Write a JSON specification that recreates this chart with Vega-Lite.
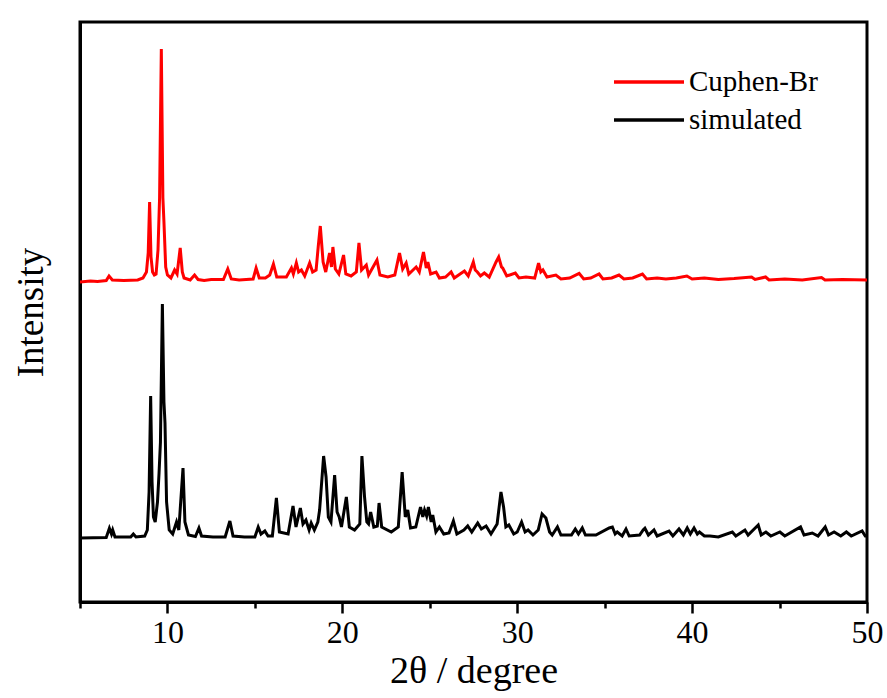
{
  "$schema": "https://vega.github.io/schema/vega-lite/v6.json",
  "width": 787,
  "height": 580,
  "autosize": {"type": "none"},
  "padding": {"left": 80, "top": 22, "right": 20, "bottom": 96},
  "background": "white",
  "config": {
    "view": {"stroke": "black", "strokeWidth": 3},
    "font": "Liberation Serif",
    "axisX": {"labelFont": "Liberation Serif", "titleFont": "Liberation Serif"},
    "axisY": {"labelFont": "Liberation Serif", "titleFont": "Liberation Serif"},
    "axisQuantitative": {"labelFont": "Liberation Serif", "titleFont": "Liberation Serif"}
  },
  "resolve": {"axis": {"x": "independent"}},
  "layer": [
    {
      "data": {"values": [
        {"theta": 5.0, "intensity": 320, "series": "Cuphen-Br"},
        {"theta": 5.6, "intensity": 321, "series": "Cuphen-Br"},
        {"theta": 6.0, "intensity": 320.5, "series": "Cuphen-Br"},
        {"theta": 6.5, "intensity": 321.5, "series": "Cuphen-Br"},
        {"theta": 6.66, "intensity": 326, "series": "Cuphen-Br"},
        {"theta": 6.85, "intensity": 322, "series": "Cuphen-Br"},
        {"theta": 7.5, "intensity": 321.5, "series": "Cuphen-Br"},
        {"theta": 8.3, "intensity": 322, "series": "Cuphen-Br"},
        {"theta": 8.6, "intensity": 324, "series": "Cuphen-Br"},
        {"theta": 8.8, "intensity": 330, "series": "Cuphen-Br"},
        {"theta": 8.9, "intensity": 349, "series": "Cuphen-Br"},
        {"theta": 8.98, "intensity": 400, "series": "Cuphen-Br"},
        {"theta": 9.06, "intensity": 345, "series": "Cuphen-Br"},
        {"theta": 9.15, "intensity": 330, "series": "Cuphen-Br"},
        {"theta": 9.25, "intensity": 327, "series": "Cuphen-Br"},
        {"theta": 9.35, "intensity": 328, "series": "Cuphen-Br"},
        {"theta": 9.46, "intensity": 352, "series": "Cuphen-Br"},
        {"theta": 9.55, "intensity": 404, "series": "Cuphen-Br"},
        {"theta": 9.65, "intensity": 553, "series": "Cuphen-Br"},
        {"theta": 9.74, "intensity": 404, "series": "Cuphen-Br"},
        {"theta": 9.8, "intensity": 380, "series": "Cuphen-Br"},
        {"theta": 9.9, "intensity": 335, "series": "Cuphen-Br"},
        {"theta": 10.0, "intensity": 327, "series": "Cuphen-Br"},
        {"theta": 10.2, "intensity": 324, "series": "Cuphen-Br"},
        {"theta": 10.41, "intensity": 332, "series": "Cuphen-Br"},
        {"theta": 10.55, "intensity": 328, "series": "Cuphen-Br"},
        {"theta": 10.73, "intensity": 354, "series": "Cuphen-Br"},
        {"theta": 10.85, "intensity": 330, "series": "Cuphen-Br"},
        {"theta": 10.95, "intensity": 324, "series": "Cuphen-Br"},
        {"theta": 11.3, "intensity": 322, "series": "Cuphen-Br"},
        {"theta": 11.55, "intensity": 327, "series": "Cuphen-Br"},
        {"theta": 11.75, "intensity": 322.5, "series": "Cuphen-Br"},
        {"theta": 12.1, "intensity": 321.5, "series": "Cuphen-Br"},
        {"theta": 12.5, "intensity": 322.5, "series": "Cuphen-Br"},
        {"theta": 13.2, "intensity": 322.5, "series": "Cuphen-Br"},
        {"theta": 13.45, "intensity": 333, "series": "Cuphen-Br"},
        {"theta": 13.65, "intensity": 323, "series": "Cuphen-Br"},
        {"theta": 14.1, "intensity": 322, "series": "Cuphen-Br"},
        {"theta": 14.5, "intensity": 322.5, "series": "Cuphen-Br"},
        {"theta": 14.9, "intensity": 323, "series": "Cuphen-Br"},
        {"theta": 15.07, "intensity": 334, "series": "Cuphen-Br"},
        {"theta": 15.25, "intensity": 324, "series": "Cuphen-Br"},
        {"theta": 15.6, "intensity": 324, "series": "Cuphen-Br"},
        {"theta": 15.85, "intensity": 327, "series": "Cuphen-Br"},
        {"theta": 16.06, "intensity": 338, "series": "Cuphen-Br"},
        {"theta": 16.25, "intensity": 325, "series": "Cuphen-Br"},
        {"theta": 16.8, "intensity": 325, "series": "Cuphen-Br"},
        {"theta": 17.09, "intensity": 334, "series": "Cuphen-Br"},
        {"theta": 17.2, "intensity": 328, "series": "Cuphen-Br"},
        {"theta": 17.37, "intensity": 339, "series": "Cuphen-Br"},
        {"theta": 17.5, "intensity": 330, "series": "Cuphen-Br"},
        {"theta": 17.66, "intensity": 332, "series": "Cuphen-Br"},
        {"theta": 17.85, "intensity": 326, "series": "Cuphen-Br"},
        {"theta": 18.13, "intensity": 339, "series": "Cuphen-Br"},
        {"theta": 18.3, "intensity": 330, "series": "Cuphen-Br"},
        {"theta": 18.5, "intensity": 332, "series": "Cuphen-Br"},
        {"theta": 18.62, "intensity": 355, "series": "Cuphen-Br"},
        {"theta": 18.74, "intensity": 376, "series": "Cuphen-Br"},
        {"theta": 18.9, "intensity": 340, "series": "Cuphen-Br"},
        {"theta": 19.05, "intensity": 330, "series": "Cuphen-Br"},
        {"theta": 19.27, "intensity": 349, "series": "Cuphen-Br"},
        {"theta": 19.38, "intensity": 335, "series": "Cuphen-Br"},
        {"theta": 19.46, "intensity": 355, "series": "Cuphen-Br"},
        {"theta": 19.6, "intensity": 333, "series": "Cuphen-Br"},
        {"theta": 19.8, "intensity": 328, "series": "Cuphen-Br"},
        {"theta": 20.07, "intensity": 347, "series": "Cuphen-Br"},
        {"theta": 20.2, "intensity": 328, "series": "Cuphen-Br"},
        {"theta": 20.5, "intensity": 326, "series": "Cuphen-Br"},
        {"theta": 20.8, "intensity": 330, "series": "Cuphen-Br"},
        {"theta": 20.95, "intensity": 359, "series": "Cuphen-Br"},
        {"theta": 21.1, "intensity": 332, "series": "Cuphen-Br"},
        {"theta": 21.37, "intensity": 337, "series": "Cuphen-Br"},
        {"theta": 21.5, "intensity": 327, "series": "Cuphen-Br"},
        {"theta": 21.98, "intensity": 342, "series": "Cuphen-Br"},
        {"theta": 22.15, "intensity": 327, "series": "Cuphen-Br"},
        {"theta": 22.6, "intensity": 325, "series": "Cuphen-Br"},
        {"theta": 23.0, "intensity": 327, "series": "Cuphen-Br"},
        {"theta": 23.27, "intensity": 349, "series": "Cuphen-Br"},
        {"theta": 23.45, "intensity": 333, "series": "Cuphen-Br"},
        {"theta": 23.65, "intensity": 339, "series": "Cuphen-Br"},
        {"theta": 23.8, "intensity": 328, "series": "Cuphen-Br"},
        {"theta": 24.22, "intensity": 335, "series": "Cuphen-Br"},
        {"theta": 24.4, "intensity": 330, "series": "Cuphen-Br"},
        {"theta": 24.64, "intensity": 350, "series": "Cuphen-Br"},
        {"theta": 24.8, "intensity": 334, "series": "Cuphen-Br"},
        {"theta": 24.89, "intensity": 340, "series": "Cuphen-Br"},
        {"theta": 25.05, "intensity": 328, "series": "Cuphen-Br"},
        {"theta": 25.36, "intensity": 330, "series": "Cuphen-Br"},
        {"theta": 25.55, "intensity": 324, "series": "Cuphen-Br"},
        {"theta": 25.9, "intensity": 325, "series": "Cuphen-Br"},
        {"theta": 26.22, "intensity": 330, "series": "Cuphen-Br"},
        {"theta": 26.4, "intensity": 324, "series": "Cuphen-Br"},
        {"theta": 26.98, "intensity": 331, "series": "Cuphen-Br"},
        {"theta": 27.2, "intensity": 326, "series": "Cuphen-Br"},
        {"theta": 27.49, "intensity": 340, "series": "Cuphen-Br"},
        {"theta": 27.6, "intensity": 332, "series": "Cuphen-Br"},
        {"theta": 27.72, "intensity": 330, "series": "Cuphen-Br"},
        {"theta": 27.9, "intensity": 326, "series": "Cuphen-Br"},
        {"theta": 28.12, "intensity": 329, "series": "Cuphen-Br"},
        {"theta": 28.4, "intensity": 325, "series": "Cuphen-Br"},
        {"theta": 28.79, "intensity": 340, "series": "Cuphen-Br"},
        {"theta": 28.94, "intensity": 345, "series": "Cuphen-Br"},
        {"theta": 29.1, "intensity": 335, "series": "Cuphen-Br"},
        {"theta": 29.17, "intensity": 334, "series": "Cuphen-Br"},
        {"theta": 29.4, "intensity": 326, "series": "Cuphen-Br"},
        {"theta": 29.89, "intensity": 329, "series": "Cuphen-Br"},
        {"theta": 30.1, "intensity": 324, "series": "Cuphen-Br"},
        {"theta": 30.5, "intensity": 325, "series": "Cuphen-Br"},
        {"theta": 31.0, "intensity": 324, "series": "Cuphen-Br"},
        {"theta": 31.22, "intensity": 339, "series": "Cuphen-Br"},
        {"theta": 31.35, "intensity": 330, "series": "Cuphen-Br"},
        {"theta": 31.47, "intensity": 332, "series": "Cuphen-Br"},
        {"theta": 31.7, "intensity": 325, "series": "Cuphen-Br"},
        {"theta": 32.21, "intensity": 327, "series": "Cuphen-Br"},
        {"theta": 32.5, "intensity": 323, "series": "Cuphen-Br"},
        {"theta": 33.0, "intensity": 324, "series": "Cuphen-Br"},
        {"theta": 33.54, "intensity": 328.7, "series": "Cuphen-Br"},
        {"theta": 33.8, "intensity": 323, "series": "Cuphen-Br"},
        {"theta": 34.2, "intensity": 324, "series": "Cuphen-Br"},
        {"theta": 34.68, "intensity": 328, "series": "Cuphen-Br"},
        {"theta": 34.9, "intensity": 323, "series": "Cuphen-Br"},
        {"theta": 35.4, "intensity": 324, "series": "Cuphen-Br"},
        {"theta": 35.82, "intensity": 327, "series": "Cuphen-Br"},
        {"theta": 36.1, "intensity": 323, "series": "Cuphen-Br"},
        {"theta": 36.6, "intensity": 324, "series": "Cuphen-Br"},
        {"theta": 37.16, "intensity": 328, "series": "Cuphen-Br"},
        {"theta": 37.4, "intensity": 323, "series": "Cuphen-Br"},
        {"theta": 38.0, "intensity": 324, "series": "Cuphen-Br"},
        {"theta": 38.5, "intensity": 323, "series": "Cuphen-Br"},
        {"theta": 39.1, "intensity": 324, "series": "Cuphen-Br"},
        {"theta": 39.7, "intensity": 326, "series": "Cuphen-Br"},
        {"theta": 40.0, "intensity": 323, "series": "Cuphen-Br"},
        {"theta": 40.7, "intensity": 324, "series": "Cuphen-Br"},
        {"theta": 41.5, "intensity": 322.5, "series": "Cuphen-Br"},
        {"theta": 42.4, "intensity": 323.5, "series": "Cuphen-Br"},
        {"theta": 43.4, "intensity": 325, "series": "Cuphen-Br"},
        {"theta": 43.6, "intensity": 322.5, "series": "Cuphen-Br"},
        {"theta": 44.2, "intensity": 325, "series": "Cuphen-Br"},
        {"theta": 44.4, "intensity": 322, "series": "Cuphen-Br"},
        {"theta": 45.3, "intensity": 323, "series": "Cuphen-Br"},
        {"theta": 46.3, "intensity": 322, "series": "Cuphen-Br"},
        {"theta": 47.4, "intensity": 324.5, "series": "Cuphen-Br"},
        {"theta": 47.6, "intensity": 322, "series": "Cuphen-Br"},
        {"theta": 48.6, "intensity": 322.5, "series": "Cuphen-Br"},
        {"theta": 50.0, "intensity": 322, "series": "Cuphen-Br"},
        {"theta": 5.0, "intensity": 64, "series": "simulated"},
        {"theta": 6.5, "intensity": 64.5, "series": "simulated"},
        {"theta": 6.68, "intensity": 73.7, "series": "simulated"},
        {"theta": 6.8, "intensity": 68, "series": "simulated"},
        {"theta": 6.87, "intensity": 72, "series": "simulated"},
        {"theta": 7.0, "intensity": 65, "series": "simulated"},
        {"theta": 7.9, "intensity": 65, "series": "simulated"},
        {"theta": 8.05, "intensity": 68, "series": "simulated"},
        {"theta": 8.2, "intensity": 65, "series": "simulated"},
        {"theta": 8.7, "intensity": 66, "series": "simulated"},
        {"theta": 8.85, "intensity": 72, "series": "simulated"},
        {"theta": 8.95, "intensity": 110, "series": "simulated"},
        {"theta": 9.04, "intensity": 206, "series": "simulated"},
        {"theta": 9.12, "intensity": 120, "series": "simulated"},
        {"theta": 9.2, "intensity": 85, "series": "simulated"},
        {"theta": 9.3, "intensity": 80, "series": "simulated"},
        {"theta": 9.43, "intensity": 100, "series": "simulated"},
        {"theta": 9.52, "intensity": 129, "series": "simulated"},
        {"theta": 9.6, "intensity": 160, "series": "simulated"},
        {"theta": 9.71, "intensity": 298, "series": "simulated"},
        {"theta": 9.8, "intensity": 200, "series": "simulated"},
        {"theta": 9.86, "intensity": 179, "series": "simulated"},
        {"theta": 9.95, "intensity": 100, "series": "simulated"},
        {"theta": 10.1, "intensity": 72, "series": "simulated"},
        {"theta": 10.3, "intensity": 68, "series": "simulated"},
        {"theta": 10.52, "intensity": 80, "series": "simulated"},
        {"theta": 10.65, "intensity": 72, "series": "simulated"},
        {"theta": 10.89, "intensity": 134, "series": "simulated"},
        {"theta": 11.0, "intensity": 80, "series": "simulated"},
        {"theta": 11.2, "intensity": 67, "series": "simulated"},
        {"theta": 11.6, "intensity": 65.5, "series": "simulated"},
        {"theta": 11.8, "intensity": 74, "series": "simulated"},
        {"theta": 11.95, "intensity": 66, "series": "simulated"},
        {"theta": 12.6, "intensity": 65, "series": "simulated"},
        {"theta": 13.3, "intensity": 65, "series": "simulated"},
        {"theta": 13.57, "intensity": 81, "series": "simulated"},
        {"theta": 13.75, "intensity": 66, "series": "simulated"},
        {"theta": 14.4, "intensity": 65, "series": "simulated"},
        {"theta": 15.0, "intensity": 65, "series": "simulated"},
        {"theta": 15.19, "intensity": 75, "series": "simulated"},
        {"theta": 15.35, "intensity": 68, "series": "simulated"},
        {"theta": 15.57, "intensity": 71, "series": "simulated"},
        {"theta": 15.75, "intensity": 66, "series": "simulated"},
        {"theta": 16.0, "intensity": 66, "series": "simulated"},
        {"theta": 16.23, "intensity": 104, "series": "simulated"},
        {"theta": 16.4, "intensity": 70, "series": "simulated"},
        {"theta": 16.9, "intensity": 68, "series": "simulated"},
        {"theta": 17.18, "intensity": 96, "series": "simulated"},
        {"theta": 17.35, "intensity": 75, "series": "simulated"},
        {"theta": 17.6, "intensity": 94, "series": "simulated"},
        {"theta": 17.75, "intensity": 78, "series": "simulated"},
        {"theta": 17.92, "intensity": 82, "series": "simulated"},
        {"theta": 18.1, "intensity": 72, "series": "simulated"},
        {"theta": 18.22, "intensity": 79, "series": "simulated"},
        {"theta": 18.4, "intensity": 72, "series": "simulated"},
        {"theta": 18.6, "intensity": 80, "series": "simulated"},
        {"theta": 18.7, "intensity": 92, "series": "simulated"},
        {"theta": 18.93, "intensity": 146, "series": "simulated"},
        {"theta": 19.07, "intensity": 125, "series": "simulated"},
        {"theta": 19.2, "intensity": 85, "series": "simulated"},
        {"theta": 19.35, "intensity": 80, "series": "simulated"},
        {"theta": 19.56, "intensity": 127, "series": "simulated"},
        {"theta": 19.7, "intensity": 90, "series": "simulated"},
        {"theta": 19.82, "intensity": 85, "series": "simulated"},
        {"theta": 19.95, "intensity": 75, "series": "simulated"},
        {"theta": 20.23, "intensity": 105, "series": "simulated"},
        {"theta": 20.4, "intensity": 75, "series": "simulated"},
        {"theta": 20.7, "intensity": 72, "series": "simulated"},
        {"theta": 21.0, "intensity": 78, "series": "simulated"},
        {"theta": 21.12, "intensity": 146, "series": "simulated"},
        {"theta": 21.27, "intensity": 105, "series": "simulated"},
        {"theta": 21.4, "intensity": 80, "series": "simulated"},
        {"theta": 21.5, "intensity": 78, "series": "simulated"},
        {"theta": 21.62, "intensity": 90, "series": "simulated"},
        {"theta": 21.8, "intensity": 75, "series": "simulated"},
        {"theta": 22.0, "intensity": 76, "series": "simulated"},
        {"theta": 22.1, "intensity": 99, "series": "simulated"},
        {"theta": 22.25, "intensity": 75, "series": "simulated"},
        {"theta": 22.8, "intensity": 70, "series": "simulated"},
        {"theta": 23.2, "intensity": 75, "series": "simulated"},
        {"theta": 23.42, "intensity": 130, "series": "simulated"},
        {"theta": 23.6, "intensity": 85, "series": "simulated"},
        {"theta": 23.74, "intensity": 92, "series": "simulated"},
        {"theta": 23.9, "intensity": 74, "series": "simulated"},
        {"theta": 24.2, "intensity": 75, "series": "simulated"},
        {"theta": 24.47, "intensity": 95, "series": "simulated"},
        {"theta": 24.6, "intensity": 85, "series": "simulated"},
        {"theta": 24.7, "intensity": 92, "series": "simulated"},
        {"theta": 24.82, "intensity": 86, "series": "simulated"},
        {"theta": 24.92, "intensity": 95, "series": "simulated"},
        {"theta": 25.08, "intensity": 80, "series": "simulated"},
        {"theta": 25.17, "intensity": 87, "series": "simulated"},
        {"theta": 25.35, "intensity": 70, "series": "simulated"},
        {"theta": 25.55, "intensity": 75, "series": "simulated"},
        {"theta": 25.8, "intensity": 68, "series": "simulated"},
        {"theta": 26.1, "intensity": 69, "series": "simulated"},
        {"theta": 26.35, "intensity": 81, "series": "simulated"},
        {"theta": 26.55, "intensity": 68, "series": "simulated"},
        {"theta": 26.95, "intensity": 72, "series": "simulated"},
        {"theta": 27.17, "intensity": 76, "series": "simulated"},
        {"theta": 27.4, "intensity": 70, "series": "simulated"},
        {"theta": 27.74, "intensity": 79, "series": "simulated"},
        {"theta": 27.95, "intensity": 73, "series": "simulated"},
        {"theta": 28.22, "intensity": 76, "series": "simulated"},
        {"theta": 28.5, "intensity": 68, "series": "simulated"},
        {"theta": 28.85, "intensity": 78, "series": "simulated"},
        {"theta": 29.07, "intensity": 110, "series": "simulated"},
        {"theta": 29.22, "intensity": 95, "series": "simulated"},
        {"theta": 29.35, "intensity": 75, "series": "simulated"},
        {"theta": 29.52, "intensity": 77, "series": "simulated"},
        {"theta": 29.8, "intensity": 68, "series": "simulated"},
        {"theta": 30.0, "intensity": 70, "series": "simulated"},
        {"theta": 30.25, "intensity": 80, "series": "simulated"},
        {"theta": 30.45, "intensity": 70, "series": "simulated"},
        {"theta": 30.62, "intensity": 72, "series": "simulated"},
        {"theta": 30.9, "intensity": 67, "series": "simulated"},
        {"theta": 31.2, "intensity": 72, "series": "simulated"},
        {"theta": 31.42, "intensity": 88, "series": "simulated"},
        {"theta": 31.64, "intensity": 84, "series": "simulated"},
        {"theta": 31.85, "intensity": 70, "series": "simulated"},
        {"theta": 32.0, "intensity": 67, "series": "simulated"},
        {"theta": 32.3, "intensity": 75, "series": "simulated"},
        {"theta": 32.5, "intensity": 67, "series": "simulated"},
        {"theta": 33.1, "intensity": 67, "series": "simulated"},
        {"theta": 33.32, "intensity": 73, "series": "simulated"},
        {"theta": 33.5, "intensity": 68, "series": "simulated"},
        {"theta": 33.72, "intensity": 74, "series": "simulated"},
        {"theta": 33.9, "intensity": 67, "series": "simulated"},
        {"theta": 34.5, "intensity": 67, "series": "simulated"},
        {"theta": 35.26, "intensity": 74, "series": "simulated"},
        {"theta": 35.44, "intensity": 75, "series": "simulated"},
        {"theta": 35.6, "intensity": 68, "series": "simulated"},
        {"theta": 35.72, "intensity": 70, "series": "simulated"},
        {"theta": 36.0, "intensity": 66, "series": "simulated"},
        {"theta": 36.22, "intensity": 73, "series": "simulated"},
        {"theta": 36.4, "intensity": 66, "series": "simulated"},
        {"theta": 37.0, "intensity": 67, "series": "simulated"},
        {"theta": 37.2, "intensity": 72, "series": "simulated"},
        {"theta": 37.3, "intensity": 73.7, "series": "simulated"},
        {"theta": 37.5, "intensity": 67, "series": "simulated"},
        {"theta": 37.82, "intensity": 72, "series": "simulated"},
        {"theta": 38.0, "intensity": 66, "series": "simulated"},
        {"theta": 38.68, "intensity": 71, "series": "simulated"},
        {"theta": 38.9, "intensity": 66, "series": "simulated"},
        {"theta": 39.25, "intensity": 73, "series": "simulated"},
        {"theta": 39.5, "intensity": 67, "series": "simulated"},
        {"theta": 39.72, "intensity": 74, "series": "simulated"},
        {"theta": 39.9, "intensity": 68, "series": "simulated"},
        {"theta": 40.11, "intensity": 74, "series": "simulated"},
        {"theta": 40.3, "intensity": 68, "series": "simulated"},
        {"theta": 40.42, "intensity": 70, "series": "simulated"},
        {"theta": 40.7, "intensity": 66, "series": "simulated"},
        {"theta": 41.02, "intensity": 66, "series": "simulated"},
        {"theta": 41.5, "intensity": 65, "series": "simulated"},
        {"theta": 42.3, "intensity": 70, "series": "simulated"},
        {"theta": 42.5, "intensity": 66, "series": "simulated"},
        {"theta": 43.02, "intensity": 72, "series": "simulated"},
        {"theta": 43.2, "intensity": 67, "series": "simulated"},
        {"theta": 43.78, "intensity": 77, "series": "simulated"},
        {"theta": 43.95, "intensity": 67, "series": "simulated"},
        {"theta": 44.22, "intensity": 70, "series": "simulated"},
        {"theta": 44.5, "intensity": 66, "series": "simulated"},
        {"theta": 45.02, "intensity": 70, "series": "simulated"},
        {"theta": 45.3, "intensity": 66, "series": "simulated"},
        {"theta": 46.2, "intensity": 75, "series": "simulated"},
        {"theta": 46.4, "intensity": 67, "series": "simulated"},
        {"theta": 46.87, "intensity": 69, "series": "simulated"},
        {"theta": 47.2, "intensity": 66, "series": "simulated"},
        {"theta": 47.61, "intensity": 75, "series": "simulated"},
        {"theta": 47.8, "intensity": 67, "series": "simulated"},
        {"theta": 48.12, "intensity": 70, "series": "simulated"},
        {"theta": 48.5, "intensity": 66, "series": "simulated"},
        {"theta": 48.82, "intensity": 70, "series": "simulated"},
        {"theta": 49.1, "intensity": 66, "series": "simulated"},
        {"theta": 49.72, "intensity": 71, "series": "simulated"},
        {"theta": 49.9, "intensity": 66, "series": "simulated"},
        {"theta": 50.0, "intensity": 66, "series": "simulated"}
      ]},
      "mark": {"type": "line", "strokeWidth": 3, "clip": true},
      "encoding": {
        "x": {
          "field": "theta", "type": "quantitative",
          "scale": {"domain": [5, 50], "nice": false, "zero": false},
          "axis": {
            "orient": "bottom",
            "values": [10, 20, 30, 40, 50], "grid": false, "title": "2θ / degree",
            "domainColor": "black", "domainWidth": 3, "tickColor": "black", "tickWidth": 2.5, "tickSize": 11,
            "labelFont": "Liberation Serif", "labelFontSize": 32, "labelColor": "black", "labelPadding": 4,
            "labelFlush": false,
            "titleFont": "Liberation Serif", "titleFontSize": 38, "titleFontWeight": "normal", "titleColor": "black", "titlePadding": 4
          }
        },
        "y": {
          "field": "intensity", "type": "quantitative",
          "scale": {"domain": [0, 580], "nice": false, "zero": false},
          "axis": {
            "title": "Intensity", "grid": false, "ticks": false, "labels": false,
            "domainColor": "black", "domainWidth": 3,
            "titleFont": "Liberation Serif", "titleFontSize": 37, "titleFontWeight": "normal", "titleColor": "black", "titlePadding": 30
          }
        },
        "color": {
          "field": "series", "type": "nominal",
          "scale": {"domain": ["Cuphen-Br", "simulated"], "range": ["#ff0000", "#000000"]},
          "legend": {
            "orient": "none", "legendX": 553, "legendY": 44, "title": null, "padding": 0,
            "symbolType": "M-2.5,0H2.5", "symbolSize": 784, "symbolStrokeWidth": 3.5, "symbolFillColor": "transparent",
            "labelFont": "Liberation Serif", "labelFontSize": 29, "labelColor": "black", "labelOffset": 24,
            "rowPadding": 7
          }
        }
      }
    },
    {
      "data": {"values": [{}]},
      "mark": {"type": "rule", "opacity": 0},
      "encoding": {
        "x": {
          "datum": 5, "type": "quantitative",
          "axis": {
            "orient": "bottom",
            "values": [5, 15, 25, 35, 45], "grid": false, "title": null, "labels": false, "domain": false,
            "tickColor": "black", "tickWidth": 2.5, "tickSize": 6
          }
        }
      }
    }
  ]
}
